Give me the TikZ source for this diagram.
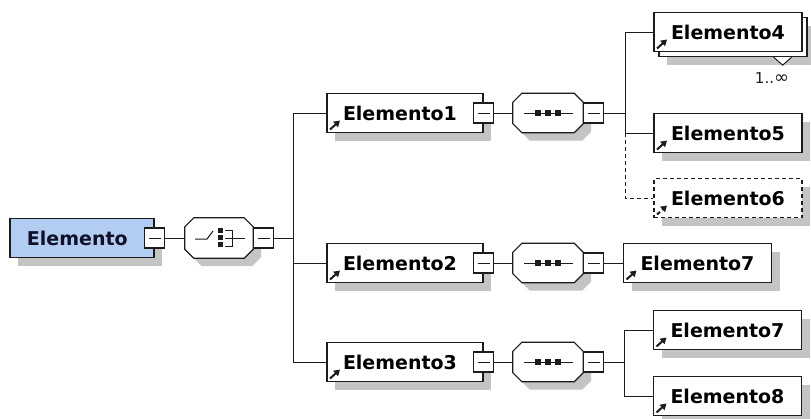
\documentclass[tikz,border=0pt]{standalone}
\usepackage{fontspec}
\setmainfont{DejaVu Sans}
\usetikzlibrary{arrows.meta}
\definecolor{linec}{RGB}{28,28,28}
\definecolor{shadowc}{RGB}{196,196,196}
\definecolor{rootfill}{RGB}{178,204,242}
\definecolor{roottext}{RGB}{16,16,40}
% octagon round a compositor node
\newcommand\octapath[1]{([xshift=9pt]#1.north west) -- ([xshift=-9pt]#1.north east)
  -- ([yshift=-9pt]#1.north east) -- ([yshift=9pt]#1.south east)
  -- ([xshift=-9pt]#1.south east) -- ([xshift=9pt]#1.south west)
  -- ([yshift=9pt]#1.south west) -- ([yshift=-9pt]#1.north west) -- cycle}
\begin{document}
\begin{tikzpicture}[x=1pt,y=-1pt,
  shadowed/.style={preaction={fill=shadowc,draw=none,transform canvas={shift={(8pt,-8pt)}}}},
  elem/.style={shape=rectangle,draw=linec,line width=1.3pt,fill=white,
    minimum height=39pt,inner ysep=0pt,text height=14pt,text depth=0pt,
    align=left,font=\fontsize{19}{22}\selectfont\bfseries},
  wide/.style={inner xsep=16pt,text width=124pt},
  narrow/.style={inner xsep=17pt,text width=114pt},
  ref/.style={path picture={\draw[linec,line width=2pt,-{Triangle[length=6pt,width=7pt]}]
    ([shift={(3pt,3pt)}]path picture bounding box.south west) -- ++(10pt,9pt);}},
  minus/.style={shape=rectangle,draw=linec,line width=1.2pt,fill=white,minimum size=20pt,inner sep=0pt,
    path picture={\draw[linec,line width=1pt] ([xshift=4pt]path picture bounding box.west)
      -- ([xshift=-4pt]path picture bounding box.east);}},
  comp/.style={shape=rectangle,minimum width=70pt,minimum height=39pt,inner sep=0pt},
  link/.style={draw=linec,line width=1pt}]

\useasboundingbox (0,0) rectangle (811,418);
\fill[white] (0,0) rectangle (811,418);

% root and its choice
\node (root) at (82,238) [elem,shadowed,fill=rootfill,text=roottext,inner xsep=17pt,text width=110pt] {Elemento};
\node (choice) at (219,238) [comp,minimum width=68pt,minimum height=40pt] {};

% middle column
\node (e1) at (405,113) [elem,wide,shadowed,ref] {Elemento1};
\node (e2) at (405,263) [elem,wide,shadowed,ref] {Elemento2};
\node (e3) at (405,362) [elem,wide,shadowed,ref] {Elemento3};
\node (seq1) at (548,113) [comp] {};
\node (seq2) at (548,263) [comp] {};
\node (seq3) at (548,362) [comp] {};

\foreach \s in {choice,seq1,seq2,seq3} {
  \fill[shadowc,transform canvas={shift={(8pt,-8pt)}}] \octapath{\s};
  \draw[linec,line width=1.2pt,fill=white] \octapath{\s};
}

\node (rootm) at (root.east) [minus] {};
\node (choicem) at (choice.east) [minus,anchor=west] {};
\node (e1m) at (e1.east) [minus] {};
\node (e2m) at (e2.east) [minus] {};
\node (e3m) at (e3.east) [minus] {};
\node (seq1m) at (seq1.east) [minus,anchor=west] {};
\node (seq2m) at (seq2.east) [minus,anchor=west] {};
\node (seq3m) at (seq3.east) [minus,anchor=west] {};

\begin{scope}[shift={(choice.center)},linec,line width=1pt]
\draw (-24,1) -- (-12,1) -- (-6,-7);
\foreach \y in {-8,-1,6} \fill (-1.5,\y-2.5) rectangle ++(5,5);
\draw (6,-8) -- (13,-8) -- (13,8) -- (6,8);
\draw (6,0) -- (26,0);
\end{scope}

\foreach \s in {seq1,seq2,seq3} {
  \draw[link] ([xshift=-24pt]\s.center) -- ([xshift=25pt]\s.center);
  \foreach \dx in {-10,0,10}
    \fill[linec] ([xshift=\dx pt]\s.center) +(-3,-3) rectangle +(3,3);
}

% right column
\node (e4b) at (733,37) [elem,narrow,shadowed] {};
\node (e4) at (728,32) [elem,narrow,ref] {Elemento4};
\draw[link,fill=white] ([xshift=-16pt]e4b.south east) -- ++(-9,8) -- ++(-9,-8);
\node (card) at (772,78) [font=\fontsize{15}{17}\selectfont,text=linec] {1..{\fontsize{18}{17}\selectfont∞}};
\node (e5) at (728,133) [elem,narrow,shadowed,ref] {Elemento5};
\node (e6) at (728,198) [elem,narrow,shadowed,ref,dash pattern=on 4pt off 3pt] {Elemento6};
\node (e7a) at (697.5,263) [elem,narrow,shadowed,ref] {Elemento7};
\node (e7b) at (727.5,330) [elem,narrow,shadowed,ref] {Elemento7};
\node (e8) at (727.5,396) [elem,narrow,shadowed,ref] {Elemento8};

% connectors
\coordinate (fork) at (293,238);
\coordinate (fork1) at (625,113);
\coordinate (fork3) at (624,362);
\draw[link] (rootm) -- (choice);
\draw[link] (choicem) -- (fork);
\draw[link] (fork) |- (e1.west);
\draw[link] (fork) |- (e2.west);
\draw[link] (fork) |- (e3.west);
\draw[link] (e1m) -- (seq1);
\draw[link] (e2m) -- (seq2);
\draw[link] (e3m) -- (seq3);
\draw[link] (seq1m) -- (fork1);
\draw[link,dash pattern=on 4pt off 3pt] (fork1 |- e5.west) |- (e6.west);
\draw[link] (fork1) |- (e4.west);
\draw[link] (fork1) |- (e5.west);
\draw[link] (seq2m) -- (e7a);
\draw[link] (seq3m) -- (fork3);
\draw[link] (fork3) |- (e7b.west);
\draw[link] (fork3) |- (e8.west);
\end{tikzpicture}
\end{document}
